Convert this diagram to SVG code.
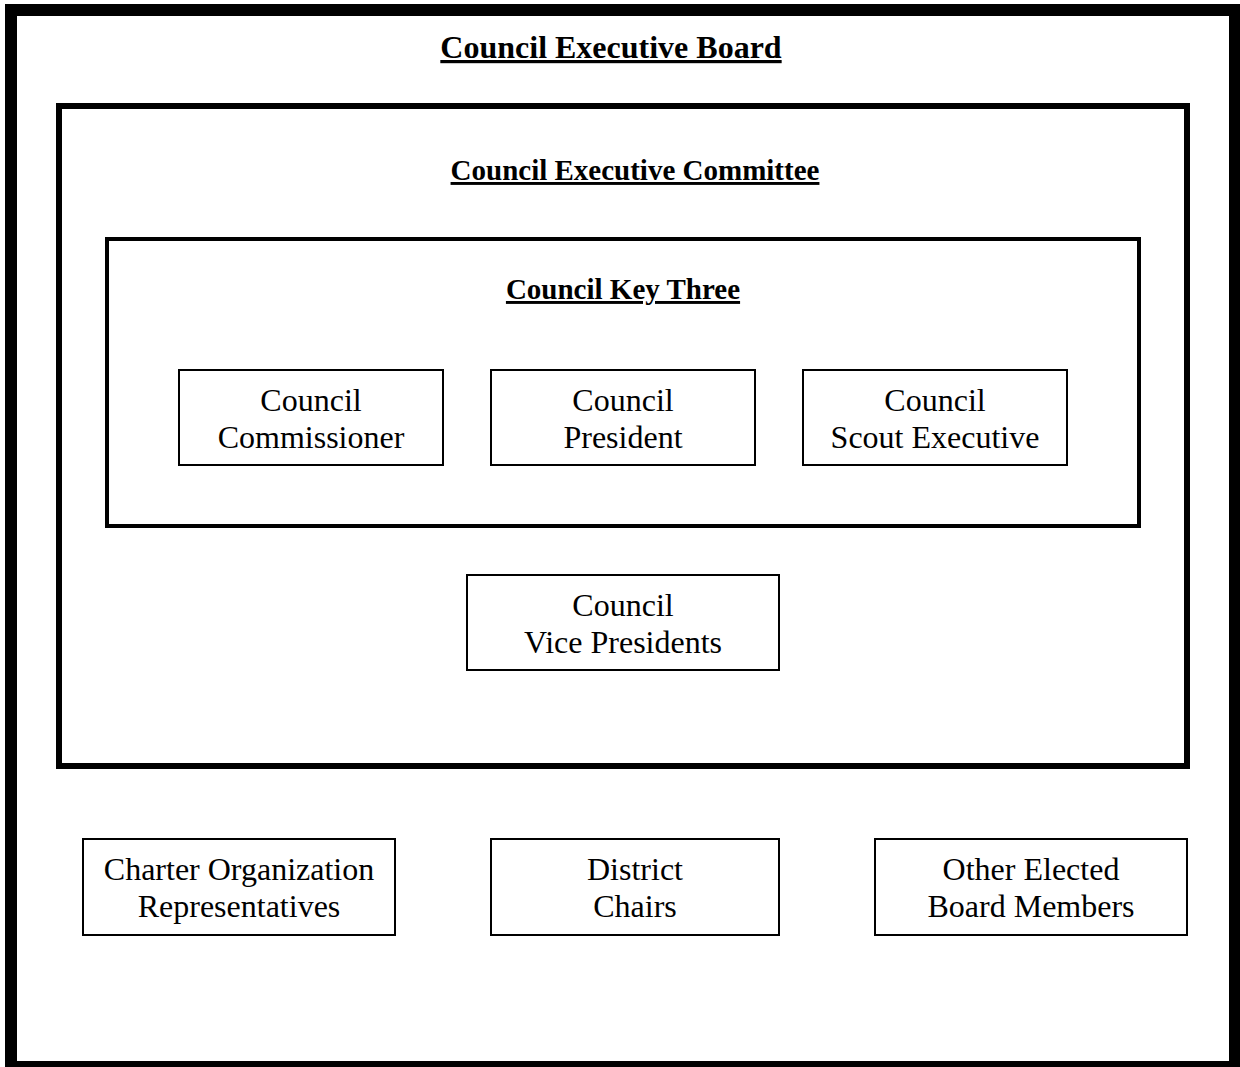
<svg xmlns="http://www.w3.org/2000/svg" width="1240" height="1067" viewBox="0 0 1240 1067">
  <style>
    .frame { fill: none; stroke: #000; }
    .box { fill: #fff; stroke: #000; stroke-width: 2; }
    .label { font-family: "Liberation Serif", "Times New Roman", serif; font-size: 32px; fill: #000; text-anchor: middle; }
    .title { font-family: "Liberation Serif", "Times New Roman", serif; font-weight: bold; fill: #000; text-anchor: middle; text-decoration: underline; }
  </style>
  <rect width="1240" height="1067" fill="#fff"/>

  <!-- Nested membership frames -->
  <g id="executive-board">
    <rect class="frame" x="11" y="10" width="1224" height="1057" stroke-width="12"/>
    <text class="title" x="611" y="58" font-size="32">Council Executive Board</text>
  </g>
  <g id="executive-committee">
    <rect class="frame" x="59" y="106" width="1128" height="660" stroke-width="6"/>
    <text class="title" x="635" y="180" font-size="29">Council Executive Committee</text>
  </g>
  <g id="key-three">
    <rect class="frame" x="107" y="239" width="1032" height="287" stroke-width="4"/>
    <text class="title" x="623" y="299" font-size="29">Council Key Three</text>
  </g>

  <!-- Key Three officers -->
  <g id="commissioner">
    <rect class="box" x="179" y="370" width="264" height="95"/>
    <text class="label" x="311" y="411">Council</text>
    <text class="label" x="311" y="448">Commissioner</text>
  </g>
  <g id="president">
    <rect class="box" x="491" y="370" width="264" height="95"/>
    <text class="label" x="623" y="411">Council</text>
    <text class="label" x="623" y="448">President</text>
  </g>
  <g id="scout-executive">
    <rect class="box" x="803" y="370" width="264" height="95"/>
    <text class="label" x="935" y="411">Council</text>
    <text class="label" x="935" y="448">Scout Executive</text>
  </g>

  <g id="vice-presidents">
    <rect class="box" x="467" y="575" width="312" height="95"/>
    <text class="label" x="623" y="616">Council</text>
    <text class="label" x="623" y="653">Vice Presidents</text>
  </g>

  <!-- Other board members -->
  <g id="charter-reps">
    <rect class="box" x="83" y="839" width="312" height="96"/>
    <text class="label" x="239" y="880">Charter Organization</text>
    <text class="label" x="239" y="917">Representatives</text>
  </g>
  <g id="district-chairs">
    <rect class="box" x="491" y="839" width="288" height="96"/>
    <text class="label" x="635" y="880">District</text>
    <text class="label" x="635" y="917">Chairs</text>
  </g>
  <g id="elected-members">
    <rect class="box" x="875" y="839" width="312" height="96"/>
    <text class="label" x="1031" y="880">Other Elected</text>
    <text class="label" x="1031" y="917">Board Members</text>
  </g>

  <g id="connectors"/>
</svg>
